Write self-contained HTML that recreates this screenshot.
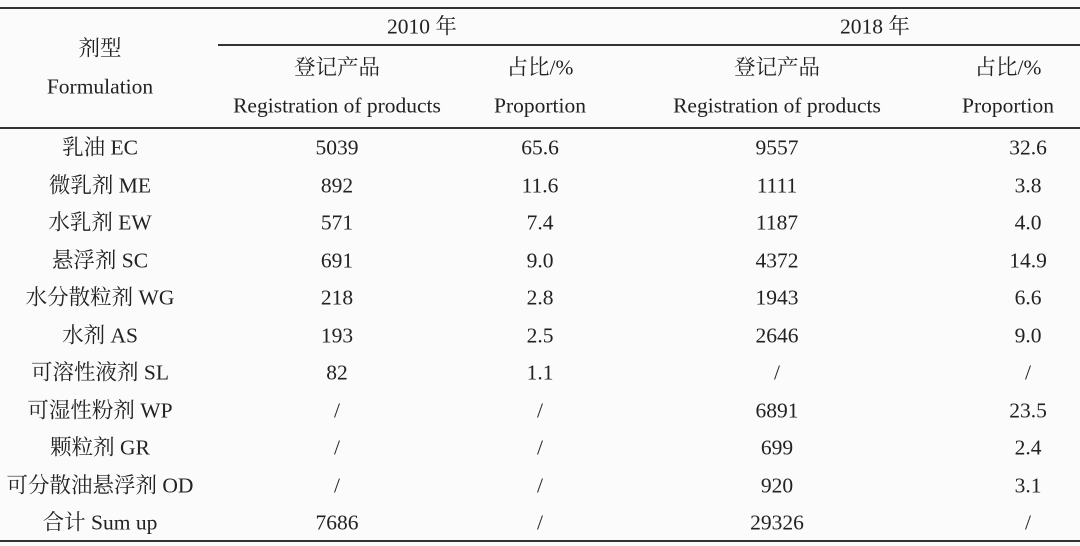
<!DOCTYPE html>
<html><head><meta charset="utf-8"><style>
body{margin:0;width:1080px;height:546px;background:#fbfbfb;position:relative;overflow:hidden;font-family:"Liberation Serif","Noto Serif CJK SC",serif;font-size:21.5px;color:#222}
.t{position:absolute;transform:translate(-50%,-50%);white-space:nowrap;line-height:1}
.l{position:absolute;height:2px;background:#333}
</style></head><body>
<div class="l" style="left:0;top:7px;width:1080px"></div>
<div class="l" style="left:218px;top:44px;width:862px;height:1.5px"></div>
<div class="l" style="left:0;top:127px;width:1080px"></div>
<div class="l" style="left:0;top:540px;width:1080px"></div>
<div class="t" style="left:100px;top:49px">剂型</div>
<div class="t" style="left:100px;top:87px">Formulation</div>
<div class="t" style="left:422px;top:27px">2010 年</div>
<div class="t" style="left:875px;top:27px">2018 年</div>
<div class="t" style="left:337px;top:68px">登记产品</div>
<div class="t" style="left:337px;top:106px">Registration of products</div>
<div class="t" style="left:540px;top:68px">占比/%</div>
<div class="t" style="left:540px;top:106px">Proportion</div>
<div class="t" style="left:777px;top:68px">登记产品</div>
<div class="t" style="left:777px;top:106px">Registration of products</div>
<div class="t" style="left:1008px;top:68px">占比/%</div>
<div class="t" style="left:1008px;top:106px">Proportion</div>
<div id="rows"></div>
<script>
var d=[["乳油 EC","5039","65.6","9557","32.6"],["微乳剂 ME","892","11.6","1111","3.8"],["水乳剂 EW","571","7.4","1187","4.0"],["悬浮剂 SC","691","9.0","4372","14.9"],["水分散粒剂 WG","218","2.8","1943","6.6"],["水剂 AS","193","2.5","2646","9.0"],["可溶性液剂 SL","82","1.1","/","/"],["可湿性粉剂 WP","/","/","6891","23.5"],["颗粒剂 GR","/","/","699","2.4"],["可分散油悬浮剂 OD","/","/","920","3.1"],["合计 Sum up","7686","/","29326","/"]];
var xs=[100,337,540,777,1028],h="";
d.forEach(function(r,i){var y=148+i*37.5;r.forEach(function(c,j){h+='<div class="t" style="left:'+xs[j]+'px;top:'+y+'px">'+c+'</div>';});});
document.getElementById("rows").innerHTML=h;
</script>
</body></html>
